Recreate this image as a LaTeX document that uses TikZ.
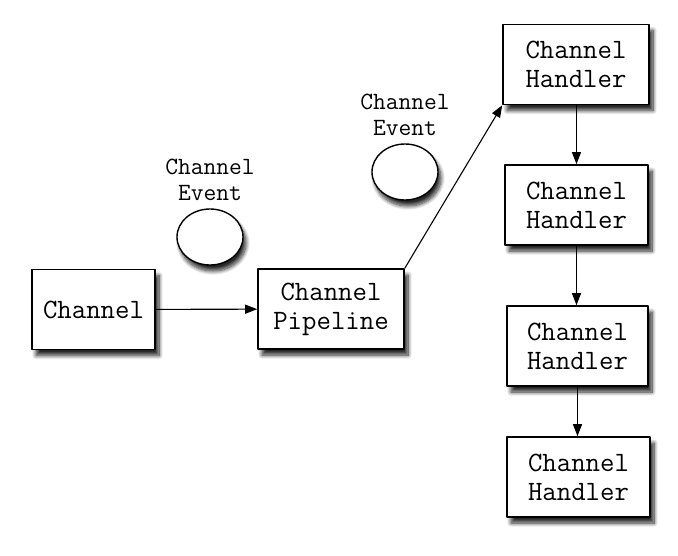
\documentclass[tikz,border=0pt]{standalone}
\usetikzlibrary{arrows.meta,positioning,shapes.geometric,shadows.blur}

\begin{document}
\begin{tikzpicture}[
  x=1pt,y=-1pt,
  line cap=round,line join=round,
  every node/.style={font=\ttfamily},
  block/.style={draw=black,line width=1.6pt,fill=white,inner sep=0pt,
    minimum height=80pt,align=center,font=\ttfamily\fontsize{28}{29}\selectfont,
    blur shadow={shadow xshift=4pt,shadow yshift=-6pt,shadow blur radius=4pt,
      shadow blur steps=10,shadow opacity=85}},
  event/.style={draw=black,line width=1.4pt,fill=white,ellipse,
    minimum width=66pt,minimum height=56pt,inner sep=0pt,
    blur shadow={shadow xshift=3pt,shadow yshift=-6pt,shadow blur radius=4pt,
      shadow blur steps=10,shadow opacity=85}},
  evlabel/.style={align=center,font=\ttfamily\fontsize{24.8}{26}\selectfont},
  flow/.style={-{Triangle[length=12pt,width=9pt]},line width=1.1pt}
]
  \useasboundingbox (0,0) rectangle (678,555);

  % Source side.
  \node[block,minimum width=123pt] (chan) at (93.5,309.5) {Channel};
  \node[block,minimum width=146pt] (pipe) at (331,309) {Channel\\Pipeline};

  % Events in flight.
  \node[event] (evA) at (210,237) {};
  \node[evlabel,above=4pt of evA] (evAlbl) {Channel\\Event};
  \node[event] (evB) at (405,172) {};
  \node[evlabel,above=4pt of evB] (evBlbl) {Channel\\Event};

  % Handler chain.
  \node[block,minimum width=146pt] (hdlA) at (576,64.5) {Channel\\Handler};
  \node[block,minimum width=143pt] (hdlB) at (576.5,205) {Channel\\Handler};
  \node[block,minimum width=141pt] (hdlC) at (577.5,346) {Channel\\Handler};
  \node[block,minimum width=143pt] (hdlD) at (578.5,477) {Channel\\Handler};

  % Connectors.
  \draw[flow] (chan) -- (pipe);
  \draw[flow] (pipe.north east) -- (hdlA.south west);
  \draw[flow] (hdlA.south -| hdlB) -- (hdlB.north);
  \draw[flow] (hdlB.south) -- (hdlB.south |- hdlC.north);
  \draw[flow] (hdlC.south) -- (hdlC.south |- hdlD.north);
\end{tikzpicture}
\end{document}
